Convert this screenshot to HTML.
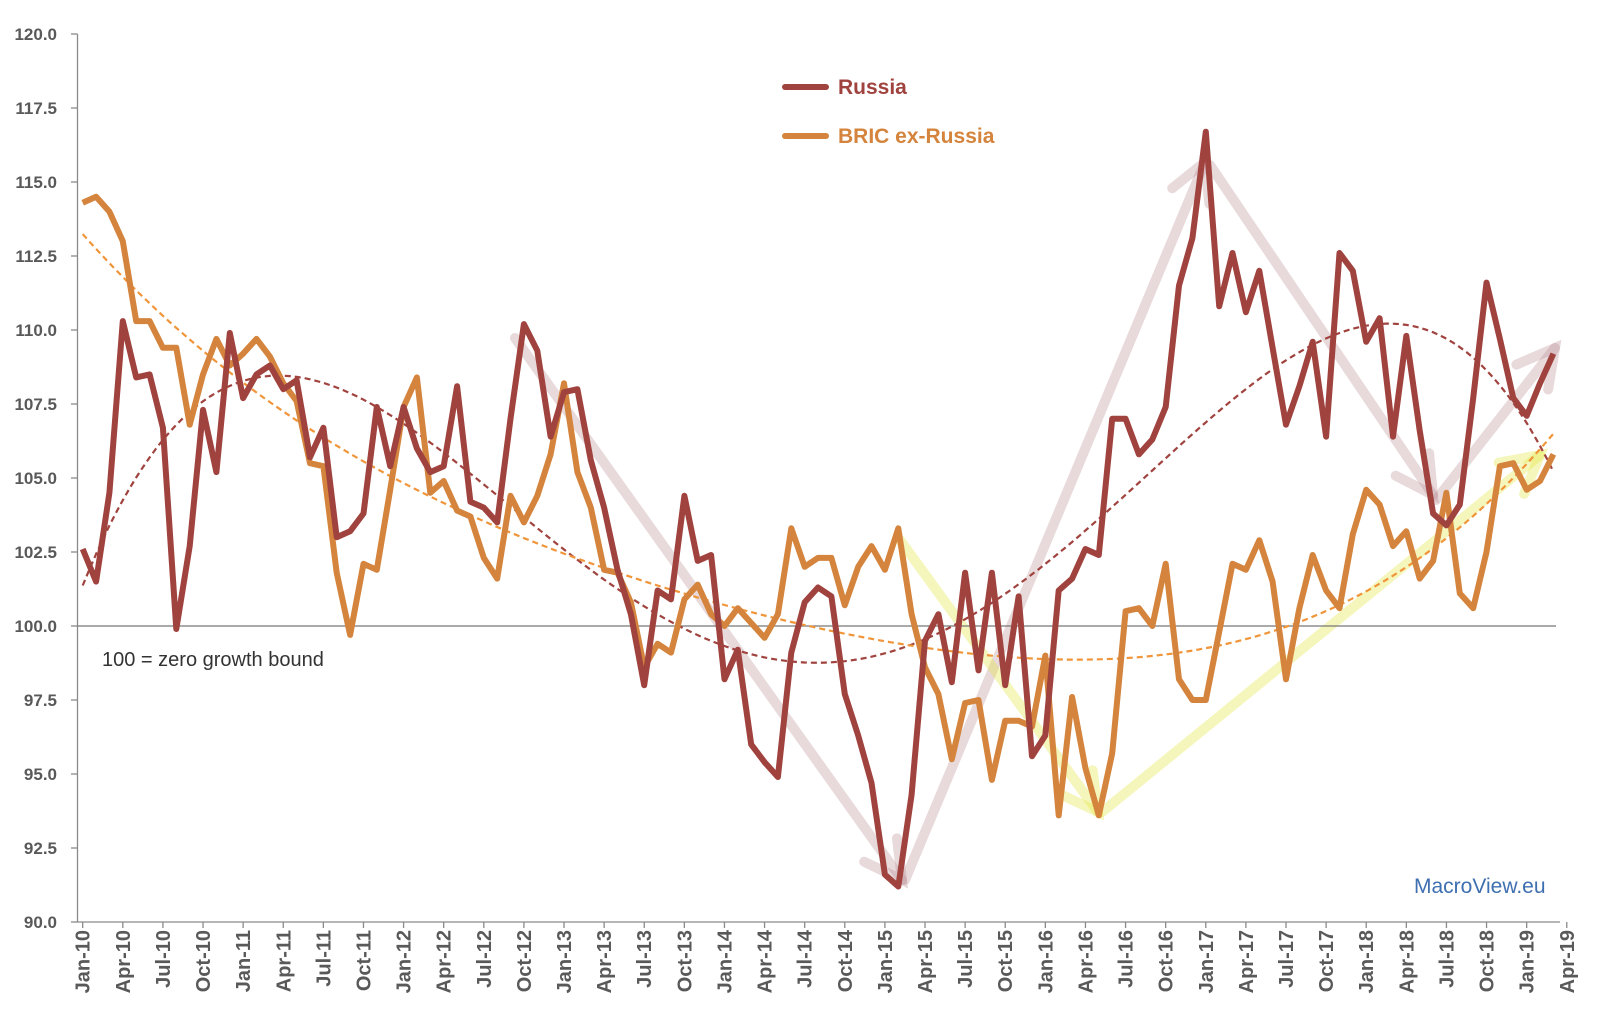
<!DOCTYPE html>
<html><head><meta charset="utf-8"><style>
html,body{margin:0;padding:0;background:#fff;}
svg{display:block;font-family:"Liberation Sans",sans-serif;}
</style></head><body>
<svg id="chart" width="1600" height="1031" viewBox="0 0 1600 1031">
<g id="decor"></g>
<g id="grid"></g>
<g id="trends"></g>
<g id="series"></g>
<g>
  <line x1="785" y1="87" x2="826" y2="87" stroke="#a0433f" stroke-width="6" stroke-linecap="round"/>
  <text x="838" y="94" font-size="21" font-weight="bold" fill="#a0433f">Russia</text>
  <line x1="785" y1="136" x2="826" y2="136" stroke="#d4843c" stroke-width="6" stroke-linecap="round"/>
  <text x="838" y="143" font-size="21" font-weight="bold" fill="#d4843c">BRIC ex-Russia</text>
</g>
<text x="102" y="666" font-size="20" fill="#333">100 = zero growth bound</text>
<text x="1414" y="893" font-size="21" fill="#3e6fb0">MacroView.eu</text>
</svg>
<script>
const yTicks = [90,92.5,95,97.5,100,102.5,105,107.5,110,112.5,115,117.5,120];
const monthNames = ["Jan","Apr","Jul","Oct"];
const russia = [102.6,101.5,104.5,110.3,108.4,108.5,106.7,99.9,102.7,107.3,105.2,109.9,107.7,108.5,108.8,108.0,108.3,105.7,106.7,103.0,103.2,103.8,107.4,105.4,107.4,106.0,105.2,105.4,108.1,104.2,104.0,103.5,107.0,110.2,109.3,106.4,107.9,108.0,105.6,104.0,101.9,100.4,98.0,101.2,100.9,104.4,102.2,102.4,98.2,99.2,96.0,95.4,94.9,99.1,100.8,101.3,101.0,97.7,96.3,94.7,91.6,91.2,94.3,99.5,100.4,98.1,101.8,98.5,101.8,98.0,101.0,95.6,96.3,101.2,101.6,102.6,102.4,107.0,107.0,105.8,106.3,107.4,111.5,113.1,116.7,110.8,112.6,110.6,112.0,109.4,106.8,108.1,109.6,106.4,112.6,112.0,109.6,110.4,106.4,109.8,106.6,103.8,103.4,104.1,107.7,111.6,109.7,107.7,107.1,108.2,109.2];
const bric = [114.3,114.5,114.0,113.0,110.3,110.3,109.4,109.4,106.8,108.5,109.7,108.8,109.2,109.7,109.1,108.2,107.6,105.5,105.4,101.8,99.7,102.1,101.9,104.6,107.4,108.4,104.5,104.9,103.9,103.7,102.3,101.6,104.4,103.5,104.4,105.8,108.2,105.2,104.0,101.9,101.8,100.8,98.6,99.4,99.1,100.9,101.4,100.4,100.0,100.6,100.1,99.6,100.4,103.3,102.0,102.3,102.3,100.7,102.0,102.7,101.9,103.3,100.4,98.6,97.7,95.5,97.4,97.5,94.8,96.8,96.8,96.6,99.0,93.6,97.6,95.2,93.6,95.7,100.5,100.6,100.0,102.1,98.2,97.5,97.5,99.8,102.1,101.9,102.9,101.5,98.2,100.6,102.4,101.2,100.6,103.1,104.6,104.1,102.7,103.2,101.6,102.2,104.5,101.1,100.6,102.5,105.4,105.5,104.6,104.9,105.8];

const NS="http://www.w3.org/2000/svg";
const X0=82.7, DX=13.37, Y100=626, PPU=29.6;
const xs = i => X0 + i*DX;
const ys = v => Y100 - (v-100)*PPU;
function mk(tag, parent, attrs){const e=document.createElementNS(NS,tag);for(const k in attrs)e.setAttribute(k,attrs[k]);parent.appendChild(e);return e;}

const grid=document.getElementById('grid');
let el=mk('line',grid,{x1:77.5,y1:ys(120),x2:77.5,y2:ys(90),stroke:'#8a8a8a','stroke-width':1.3});


el=mk('line',grid,{x1:77.5,y1:ys(90),x2:1560,y2:ys(90),stroke:'#8a8a8a','stroke-width':1.3});


el=mk('line',grid,{x1:77.5,y1:ys(100),x2:1556,y2:ys(100),stroke:'#777','stroke-width':1.3});


yTicks.forEach(v=>{
  const t=mk('line',grid,{x1:71,y1:ys(v),x2:77.5,y2:ys(v),stroke:'#8a8a8a','stroke-width':1.3});
  
  
  const l=mk('text',grid,{x:57,y:ys(v)+6,'text-anchor':'end','font-size':17,'font-weight':'bold',fill:'#595959'});
  l.textContent=v.toFixed(1);
  
  
});
for(let i=0;i<=111;i+=3){
  const yr=10+Math.floor(i/12), m=monthNames[(i%12)/3];
  const x=xs(i);
  const t=mk('line',grid,{x1:x,y1:ys(90),x2:x,y2:ys(90)+6,stroke:'#8a8a8a','stroke-width':1.3});
  
  
  const l=mk('text',grid,{x:x+7,y:ys(90)+8,'text-anchor':'end','font-size':20,'font-weight':'bold',fill:'#595959',transform:`rotate(-90 ${x+7} ${ys(90)+8})`});
  l.textContent=m+'-'+yr;
  
  
}

const decor=document.getElementById('decor');
function arrow(x1,y1,x2,y2,color,name){
  const g=mk('g',decor,{stroke:color,'stroke-width':10,'stroke-linecap':'round',fill:'none'});
  
  
  mk('line',g,{x1,y1,x2,y2});
  const a=Math.atan2(y2-y1,x2-x1), L=42, s=0.5;
  mk('polyline',g,{points:`${x2-L*Math.cos(a-s)},${y2-L*Math.sin(a-s)} ${x2},${y2} ${x2-L*Math.cos(a+s)},${y2-L*Math.sin(a+s)}`});
}
const pink='rgba(185,140,145,0.33)', yel='rgba(225,230,60,0.35)';
arrow(515,338,902,880,pink,'russia-arrow-down-1');
arrow(905,880,1205,162,pink,'russia-arrow-up-1');
arrow(1210,165,1433,495,pink,'russia-arrow-down-2');
arrow(1436,500,1555,348,pink,'russia-arrow-up-2');
arrow(900,540,1098,812,yel,'bric-arrow-down');
arrow(1102,812,1540,455,yel,'bric-arrow-up');

function polyfit(ys_,deg){
  const n=ys_.length, m=deg+1, A=[], b=[];
  const t=i=>(i-(n-1)/2)/((n-1)/2);
  for(let r=0;r<m;r++){A.push(new Array(m).fill(0));b.push(0);}
  ys_.forEach((y,i)=>{const x=t(i);for(let r=0;r<m;r++){b[r]+=y*Math.pow(x,r);for(let c=0;c<m;c++)A[r][c]+=Math.pow(x,r+c);}});
  for(let c=0;c<m;c++){let p=c;for(let r=c+1;r<m;r++)if(Math.abs(A[r][c])>Math.abs(A[p][c]))p=r;[A[c],A[p]]=[A[p],A[c]];[b[c],b[p]]=[b[p],b[c]];
    for(let r=0;r<m;r++){if(r===c)continue;const f=A[r][c]/A[c][c];for(let k=c;k<m;k++)A[r][k]-=f*A[c][k];b[r]-=f*b[c];}}
  const co=b.map((v,i)=>v/A[i][i]);
  return i=>{const x=t(i);return co.reduce((s,c,k)=>s+c*Math.pow(x,k),0);};
}
const trends=document.getElementById('trends');
[[russia,4,'#a0433f','russia-trendline'],[bric,4,'#f0953a','bric-trendline']].forEach(([d,deg,c,name])=>{
  const f=polyfit(d,deg);let p='';
  for(let i=0;i<d.length-1+0.01;i+=0.5)p+=(p?'L':'M')+xs(i).toFixed(1)+','+ys(f(i)).toFixed(1);
  const e=mk('path',trends,{d:p,fill:'none',stroke:c,'stroke-width':2.2,'stroke-dasharray':'6 4'});
  
  
});

const series=document.getElementById('series');
[[bric,'#d4843c','bric-ex-russia-line'],[russia,'#a0433f','russia-line']].forEach(([d,c,name])=>{
  const p=d.map((v,i)=>(i?'L':'M')+xs(i).toFixed(1)+','+ys(v).toFixed(1)).join('');
  const e=mk('path',series,{d:p,fill:'none',stroke:c,'stroke-width':6,'stroke-linejoin':'round'});
  
  
});
</script>
</body></html>
